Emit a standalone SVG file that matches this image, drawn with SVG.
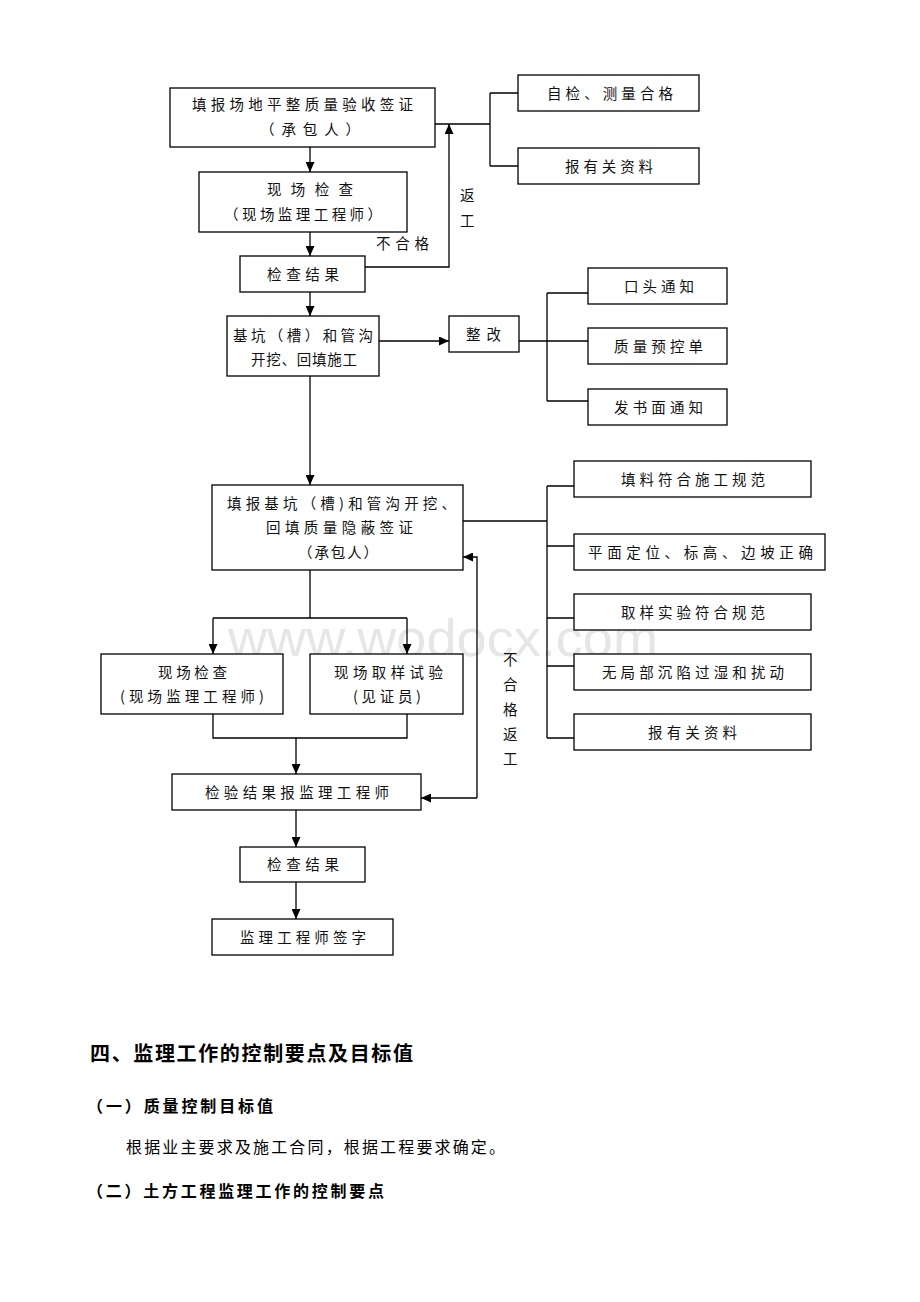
<svg xmlns="http://www.w3.org/2000/svg" width="920" height="1302" viewBox="0 0 920 1302">
<style>
.b{fill:#fff;stroke:#000;stroke-width:1.3}
.t{font-family:"Noto Sans CJK SC","Liberation Serif",serif;font-size:14.5px;fill:#111;text-anchor:start}
.c{fill:none;stroke:#000;stroke-width:1.3}
.h{font-family:"Noto Sans CJK SC",sans-serif;font-weight:bold;fill:#000}
.p{font-family:"Noto Sans CJK SC",sans-serif;fill:#000}
.wm{font-family:"Liberation Sans",sans-serif;font-size:52px;fill:#e6e6e6}
</style>
<defs>
<marker id="a" markerUnits="userSpaceOnUse" markerWidth="10" markerHeight="9" refX="10" refY="4.5" orient="auto"><path d="M0,0 L10,4.5 L0,9 z" fill="#000"/></marker>
</defs>
<rect width="920" height="1302" fill="#fff"/>
<text class="wm" x="228" y="656" textLength="430" lengthAdjust="spacingAndGlyphs">www.wodocx.com</text>
<g id="connectors">
<path class="c" d="M310,147 V172" marker-end="url(#a)"/>
<path class="c" d="M310,232 V256" marker-end="url(#a)"/>
<path class="c" d="M365,267 H449 V124" marker-end="url(#a)"/>
<path class="c" d="M435,124 H490 M490,93 V166 M490,93 H518 M490,166 H518"/>
<path class="c" d="M310,292 V316" marker-end="url(#a)"/>
<path class="c" d="M379,341 H449" marker-end="url(#a)"/>
<path class="c" d="M519,341 H588 M547,293 V401 M547,293 H588 M547,401 H588"/>
<path class="c" d="M310,376 V485" marker-end="url(#a)"/>
<path class="c" d="M463,521 H547 M547,486 V738 M547,486 H574 M547,546 H574 M547,618 H574 M547,666 H574 M547,738 H574"/>
<path class="c" d="M310,570 V618 M213,618 H407"/>
<path class="c" d="M213,618 V654" marker-end="url(#a)"/>
<path class="c" d="M407,618 V654" marker-end="url(#a)"/>
<path class="c" d="M213,714 V738 H407 V714"/>
<path class="c" d="M296,738 V774" marker-end="url(#a)"/>
<path class="c" d="M477,798 V557 H463" marker-end="url(#a)"/>
<path class="c" d="M477,798 H421" marker-end="url(#a)"/>
<path class="c" d="M296,810 V847" marker-end="url(#a)"/>
<path class="c" d="M296,882 V919" marker-end="url(#a)"/>
<text class="t" x="376" y="249" textLength="53" lengthAdjust="spacing">不合格</text>
<text class="t" x="460" y="201">返</text>
<text class="t" x="460" y="226">工</text>
<text class="t" x="503" y="665">不</text>
<text class="t" x="503" y="690">合</text>
<text class="t" x="503" y="715">格</text>
<text class="t" x="503" y="740">返</text>
<text class="t" x="503" y="764">工</text>
</g>
<g id="n1"><rect class="b" x="170" y="88" width="265" height="59"/>
<text class="t" x="192" y="110" textLength="221" lengthAdjust="spacing">填报场地平整质量验收签证</text>
<text class="t" x="260" y="135" textLength="100" lengthAdjust="spacing">（承包人）</text></g>
<g id="n2"><rect class="b" x="518" y="75" width="181" height="36"/>
<text class="t" x="547" y="99" textLength="126" lengthAdjust="spacing">自检、测量合格</text></g>
<g id="n3"><rect class="b" x="518" y="148" width="181" height="36"/>
<text class="t" x="565" y="172" textLength="88" lengthAdjust="spacing">报有关资料</text></g>
<g id="n4"><rect class="b" x="199" y="172" width="208" height="60"/>
<text class="t" x="267" y="195" textLength="86" lengthAdjust="spacing">现场检查</text>
<text class="t" x="224" y="220" textLength="158" lengthAdjust="spacing">（现场监理工程师）</text></g>
<g id="n5"><rect class="b" x="240" y="256" width="125" height="36"/>
<text class="t" x="267" y="280" textLength="72" lengthAdjust="spacing">检查结果</text></g>
<g id="n6"><rect class="b" x="227" y="316" width="152" height="60"/>
<text class="t" x="233" y="341" textLength="140" lengthAdjust="spacing">基坑（槽）和管沟</text>
<text class="t" x="251" y="365" textLength="106" lengthAdjust="spacing">开挖、回填施工</text></g>
<g id="n7"><rect class="b" x="449" y="316" width="70" height="36"/>
<text class="t" x="466" y="340" textLength="35" lengthAdjust="spacing">整改</text></g>
<g id="n8"><rect class="b" x="588" y="268" width="139" height="36"/>
<text class="t" x="624" y="292" textLength="70" lengthAdjust="spacing">口头通知</text></g>
<g id="n9"><rect class="b" x="588" y="328" width="139" height="36"/>
<text class="t" x="614" y="352" textLength="89" lengthAdjust="spacing">质量预控单</text></g>
<g id="n10"><rect class="b" x="588" y="389" width="139" height="36"/>
<text class="t" x="614" y="413" textLength="89" lengthAdjust="spacing">发书面通知</text></g>
<g id="n11"><rect class="b" x="212" y="485" width="251" height="85"/>
<text class="t" x="227" y="509" textLength="229" lengthAdjust="spacing">填报基坑（槽)和管沟开挖、</text>
<text class="t" x="266" y="533" textLength="147" lengthAdjust="spacing">回填质量隐蔽签证</text>
<text class="t" x="298" y="558" textLength="80" lengthAdjust="spacing">（承包人）</text></g>
<g id="n12"><rect class="b" x="574" y="461" width="237" height="36"/>
<text class="t" x="621" y="485" textLength="144" lengthAdjust="spacing">填料符合施工规范</text></g>
<g id="n13"><rect class="b" x="574" y="534" width="251" height="36"/>
<text class="t" x="588" y="558" textLength="225" lengthAdjust="spacing">平面定位、标高、边坡正确</text></g>
<g id="n14"><rect class="b" x="574" y="594" width="237" height="36"/>
<text class="t" x="621" y="618" textLength="144" lengthAdjust="spacing">取样实验符合规范</text></g>
<g id="n15"><rect class="b" x="574" y="654" width="237" height="36"/>
<text class="t" x="602" y="678" textLength="182" lengthAdjust="spacing">无局部沉陷过湿和扰动</text></g>
<g id="n16"><rect class="b" x="574" y="714" width="237" height="36"/>
<text class="t" x="648" y="738" textLength="89" lengthAdjust="spacing">报有关资料</text></g>
<g id="n17"><rect class="b" x="101" y="654" width="182" height="60"/>
<text class="t" x="158" y="678" textLength="69" lengthAdjust="spacing">现场检查</text>
<text class="t" x="120" y="702" textLength="144" lengthAdjust="spacing">(现场监理工程师)</text></g>
<g id="n18"><rect class="b" x="310" y="654" width="153" height="60"/>
<text class="t" x="334" y="678" textLength="109" lengthAdjust="spacing">现场取样试验</text>
<text class="t" x="353" y="702" textLength="68" lengthAdjust="spacing">(见证员)</text></g>
<g id="n19"><rect class="b" x="172" y="774" width="249" height="36"/>
<text class="t" x="205" y="798" textLength="184" lengthAdjust="spacing">检验结果报监理工程师</text></g>
<g id="n20"><rect class="b" x="240" y="847" width="125" height="35"/>
<text class="t" x="267" y="870" textLength="72" lengthAdjust="spacing">检查结果</text></g>
<g id="n21"><rect class="b" x="212" y="919" width="181" height="36"/>
<text class="t" x="240" y="943" textLength="126" lengthAdjust="spacing">监理工程师签字</text></g>
<g id="body">
<text class="h" x="90" y="1061" font-size="20" textLength="323" lengthAdjust="spacing">四、监理工作的控制要点及目标值</text>
<text class="h" x="87" y="1112" font-size="16" textLength="186" lengthAdjust="spacing">（一）质量控制目标值</text>
<text class="p" x="126" y="1153" font-size="16" textLength="379" lengthAdjust="spacing">根据业主要求及施工合同，根据工程要求确定。</text>
<text class="h" x="87" y="1197" font-size="16" textLength="297" lengthAdjust="spacing">（二）土方工程监理工作的控制要点</text>
</g>
</svg>
